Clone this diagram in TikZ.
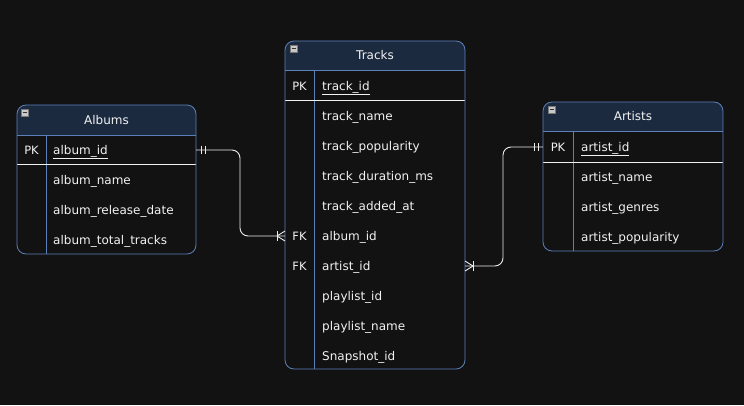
\documentclass[tikz,border=0pt]{standalone}
\usepackage{fontspec}
\setmainfont{DejaVu Sans}
\definecolor{bg}{HTML}{121212}
\definecolor{hdr}{HTML}{1C2A40}
\definecolor{bord}{HTML}{5B80BA}
\definecolor{txt}{HTML}{F2F2F2}
\definecolor{conncol}{HTML}{EDEDED}
\definecolor{icongray}{HTML}{C8C8C8}
\begin{document}
\begin{tikzpicture}[x=1pt,y=-1pt,
  tbl/.style={inner sep=0pt, outer sep=0pt, anchor=north west},
  border/.style={draw=bord, line width=0.8pt, rounded corners=9pt},
  sepline/.style={draw=bord, line width=0.8pt},
  pkline/.style={draw=txt, line width=0.8pt},
  fld/.style={text=txt, font=\fontsize{12}{14}\selectfont, anchor=west, inner sep=0pt, text height=9pt, text depth=3pt, yshift=-1pt},
  keylbl/.style={fld, anchor=center, font=\fontsize{11.5}{14}\selectfont},
  ttl/.style={text=txt, font=\fontsize{12}{14}\selectfont, inner sep=0pt},
  iconbox/.style={fill=icongray, draw=icongray!60!black, line width=0.4pt, minimum size=7pt, inner sep=0pt},
  conn/.style={draw=conncol, line width=0.9pt, rounded corners=8pt},
  tickln/.style={draw=conncol, line width=0.9pt}
]
\fill[bg] (0,0) rectangle (744,405);
\useasboundingbox (0,0) rectangle (744,405);

% ---------------- Albums ----------------
\node[tbl, minimum width=179pt, minimum height=149pt] (albums) at (17,105) {};
\begin{scope}\clip (0,0) rectangle (744,135);
  \fill[hdr, rounded corners=9pt] (albums.north west) rectangle (albums.south east);
\end{scope}
\draw[sepline] (albums.west |- 0,135) -- (albums.east |- 0,135);
\draw[sepline] (46,135) -- (46,254);
\draw[pkline] (albums.west |- 0,164) -- (albums.east |- 0,164);
\draw[border] (albums.north west) rectangle (albums.south east);
\node[iconbox] (albicon) at (24.5,112.5) {};
\draw[black!80, line width=0.8pt] ([xshift=-2pt]albicon.center) -- ([xshift=2pt]albicon.center);
\node[ttl] (albttl) at (106.5,120) {Albums};
\node[keylbl] (albpk) at (31.5,150) {PK};
\node[fld] (aid) at (53,150) {\underline{album\_id}};
\node[fld] (aname) at (53,180) {album\_name};
\node[fld] (adate) at (53,210) {album\_release\_date};
\node[fld] (atot) at (53,240) {album\_total\_tracks};

% ---------------- Tracks ----------------
\node[tbl, minimum width=180pt, minimum height=328pt] (tracks) at (285,41) {};
\begin{scope}\clip (0,0) rectangle (744,70);
  \fill[hdr, rounded corners=9pt] (tracks.north west) rectangle (tracks.south east);
\end{scope}
\draw[sepline] (tracks.west |- 0,70) -- (tracks.east |- 0,70);
\draw[sepline] (314,70) -- (314,369);
\draw[pkline] (tracks.west |- 0,100) -- (tracks.east |- 0,100);
\draw[border] (tracks.north west) rectangle (tracks.south east);
\node[iconbox] (trkicon) at (293.5,48.5) {};
\draw[black!80, line width=0.8pt] ([xshift=-2pt]trkicon.center) -- ([xshift=2pt]trkicon.center);
\node[ttl] (trkttl) at (375,55) {Tracks};
\node[keylbl] (trkpk) at (299.5,86) {PK};
\node[fld] (tid) at (322,86) {\underline{track\_id}};
\node[fld] (tname) at (322,116) {track\_name};
\node[fld] (tpop) at (322,146) {track\_popularity};
\node[fld] (tdur) at (322,176) {track\_duration\_ms};
\node[fld] (tadd) at (322,206) {track\_added\_at};
\node[keylbl] (fk1) at (299.5,236) {FK};
\node[fld] (talb) at (322,236) {album\_id};
\node[keylbl] (fk2) at (299.5,266) {FK};
\node[fld] (tart) at (322,266) {artist\_id};
\node[fld] (tplid) at (322,296) {playlist\_id};
\node[fld] (tplname) at (322,326) {playlist\_name};
\node[fld] (tsnap) at (322,356) {Snapshot\_id};

% ---------------- Artists ----------------
\node[tbl, minimum width=180pt, minimum height=149pt] (artists) at (543,102) {};
\begin{scope}\clip (0,0) rectangle (744,131);
  \fill[hdr, rounded corners=9pt] (artists.north west) rectangle (artists.south east);
\end{scope}
\draw[sepline] (artists.west |- 0,131) -- (artists.east |- 0,131);
\draw[sepline] (573,131) -- (573,251);
\draw[pkline] (artists.west |- 0,162) -- (artists.east |- 0,162);
\draw[border] (artists.north west) rectangle (artists.south east);
\node[iconbox] (articon) at (551.5,109.5) {};
\draw[black!80, line width=0.8pt] ([xshift=-2pt]articon.center) -- ([xshift=2pt]articon.center);
\node[ttl] (artttl) at (633,116) {Artists};
\node[keylbl] (artpk) at (558,147) {PK};
\node[fld] (arid) at (581,147) {\underline{artist\_id}};
\node[fld] (arname) at (581,177) {artist\_name};
\node[fld] (argen) at (581,207) {artist\_genres};
\node[fld] (arpop) at (581,237) {artist\_popularity};

% ---------------- Connectors ----------------
\coordinate (c1a) at (albums.east |- 0,150);
\coordinate (c1b) at (tracks.west |- 0,236);
\draw[conn] (c1a) -- ++(44,0) |- (c1b);
% mandatory one at Albums
\draw[tickln] ([xshift=5pt]c1a) ++(0,-4) -- ++(0,8);
\draw[tickln] ([xshift=9pt]c1a) ++(0,-4) -- ++(0,8);
% one-or-many at Tracks (album_id)
\draw[tickln] ([xshift=-8pt]c1b) ++(0,-5) -- ++(0,10);
\draw[tickln] ([xshift=-8pt]c1b) -- ([yshift=-5pt]c1b);
\draw[tickln] ([xshift=-8pt]c1b) -- ([yshift=5pt]c1b);

\coordinate (c2a) at (tracks.east |- 0,266);
\coordinate (c2b) at (artists.west |- 0,147);
\draw[conn] (c2a) -- ++(38,0) |- (c2b);
% one-or-many at Tracks (artist_id)
\draw[tickln] ([xshift=8pt]c2a) ++(0,-5) -- ++(0,10);
\draw[tickln] ([xshift=8pt]c2a) -- ([yshift=-5pt]c2a);
\draw[tickln] ([xshift=8pt]c2a) -- ([yshift=5pt]c2a);
% mandatory one at Artists
\draw[tickln] ([xshift=-5pt]c2b) ++(0,-4) -- ++(0,8);
\draw[tickln] ([xshift=-9pt]c2b) ++(0,-4) -- ++(0,8);
\end{tikzpicture}
\end{document}
